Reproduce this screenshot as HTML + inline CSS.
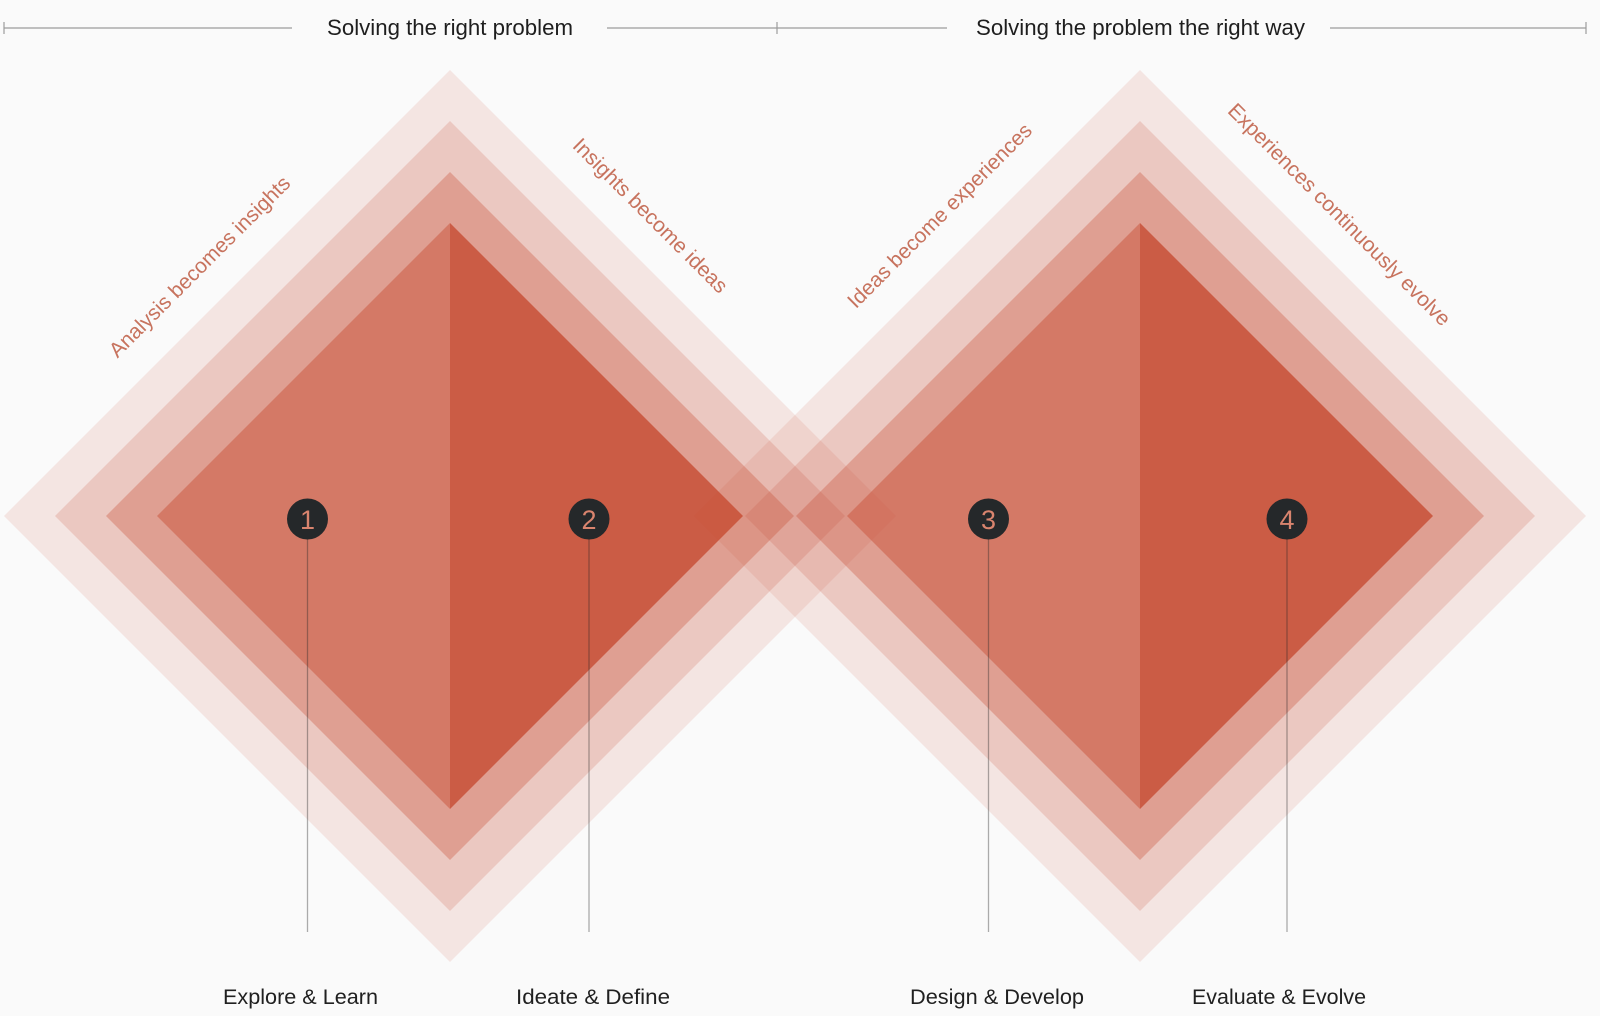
<!DOCTYPE html>
<html>
<head>
<meta charset="utf-8">
<style>
  html, body { margin: 0; padding: 0; background: #fafafa; }
  body { width: 1600px; height: 1016px; overflow: hidden; }
  svg { display: block; }
  text { font-family: "Liberation Sans", "DejaVu Sans", sans-serif; }
</style>
</head>
<body>
<svg width="1600" height="1016" viewBox="0 0 1600 1016" xmlns="http://www.w3.org/2000/svg">
  <rect x="0" y="0" width="1600" height="1016" fill="#fafafa"/>

  <!-- Top header lines -->
  <g stroke="#9c9c9c" stroke-width="1.2" fill="none">
    <line x1="4" y1="28" x2="292" y2="28"/>
    <line x1="4" y1="22" x2="4" y2="34"/>
    <line x1="607" y1="28" x2="947" y2="28"/>
    <line x1="777" y1="22" x2="777" y2="34"/>
    <line x1="1330" y1="28" x2="1586" y2="28"/>
    <line x1="1586" y1="22" x2="1586" y2="34"/>
  </g>
  <text x="327" y="35" font-size="22" fill="#1e1e1e" textLength="246" lengthAdjust="spacingAndGlyphs">Solving the right problem</text>
  <text x="976" y="35" font-size="22" fill="#1e1e1e" textLength="329" lengthAdjust="spacingAndGlyphs">Solving the problem the right way</text>

  <!-- Left diamond -->
  <g>
    <path d="M4,516 L450,70 L896,516 L450,962 Z" fill="rgb(200,80,55)" fill-opacity="0.118"/>
    <path d="M55,516 L450,121 L845,516 L450,911 Z" fill="rgb(200,80,55)" fill-opacity="0.193"/>
    <path d="M106,516 L450,172 L794,516 L450,860 Z" fill="rgb(200,80,55)" fill-opacity="0.34"/>
    <path d="M157,516 L450,223 L450,809 Z" fill="rgb(200,80,55)" fill-opacity="0.475"/>
    <path d="M450,223 L743,516 L450,809 Z" fill="rgb(200,80,55)" fill-opacity="0.85"/>
  </g>

  <!-- Right diamond -->
  <g>
    <path d="M694,516 L1140,70 L1586,516 L1140,962 Z" fill="rgb(200,80,55)" fill-opacity="0.118"/>
    <path d="M745,516 L1140,121 L1535,516 L1140,911 Z" fill="rgb(200,80,55)" fill-opacity="0.193"/>
    <path d="M796,516 L1140,172 L1484,516 L1140,860 Z" fill="rgb(200,80,55)" fill-opacity="0.34"/>
    <path d="M847,516 L1140,223 L1140,809 Z" fill="rgb(200,80,55)" fill-opacity="0.475"/>
    <path d="M1140,223 L1433,516 L1140,809 Z" fill="rgb(200,80,55)" fill-opacity="0.85"/>
  </g>

  <!-- Diagonal captions -->
  <g fill="#c7735e" font-size="21" text-anchor="middle" dominant-baseline="central">
    <text transform="translate(200,267) rotate(-45)">Analysis becomes insights</text>
    <text transform="translate(650,216) rotate(45)">Insights become ideas</text>
    <text transform="translate(940,216) rotate(-45)">Ideas become experiences</text>
    <text transform="translate(1339,215) rotate(45)">Experiences continuously evolve</text>
  </g>

  <!-- Leader lines -->
  <g stroke="rgb(40,40,40)" stroke-opacity="0.38" stroke-width="1.3">
    <line x1="307.5" y1="519" x2="307.5" y2="932"/>
    <line x1="589" y1="519" x2="589" y2="932"/>
    <line x1="988.5" y1="519" x2="988.5" y2="932"/>
    <line x1="1287" y1="519" x2="1287" y2="932"/>
  </g>

  <!-- Markers -->
  <g>
    <circle cx="307.5" cy="519" r="20.5" fill="#25282a"/>
    <circle cx="589" cy="519" r="20.5" fill="#25282a"/>
    <circle cx="988.5" cy="519" r="20.5" fill="#25282a"/>
    <circle cx="1287" cy="519" r="20.5" fill="#25282a"/>
  </g>
  <g fill="#d9846e" font-size="27" text-anchor="middle">
    <text x="307.5" y="529">1</text>
    <text x="589" y="529">2</text>
    <text x="988.5" y="529">3</text>
    <text x="1287" y="529">4</text>
  </g>

  <!-- Bottom labels -->
  <g fill="#202020" font-size="21">
    <text x="223" y="1004" textLength="155" lengthAdjust="spacingAndGlyphs">Explore &amp; Learn</text>
    <text x="516" y="1004" textLength="154" lengthAdjust="spacingAndGlyphs">Ideate &amp; Define</text>
    <text x="910" y="1004" textLength="174" lengthAdjust="spacingAndGlyphs">Design &amp; Develop</text>
    <text x="1192" y="1004" textLength="174" lengthAdjust="spacingAndGlyphs">Evaluate &amp; Evolve</text>
  </g>
</svg>
</body>
</html>
